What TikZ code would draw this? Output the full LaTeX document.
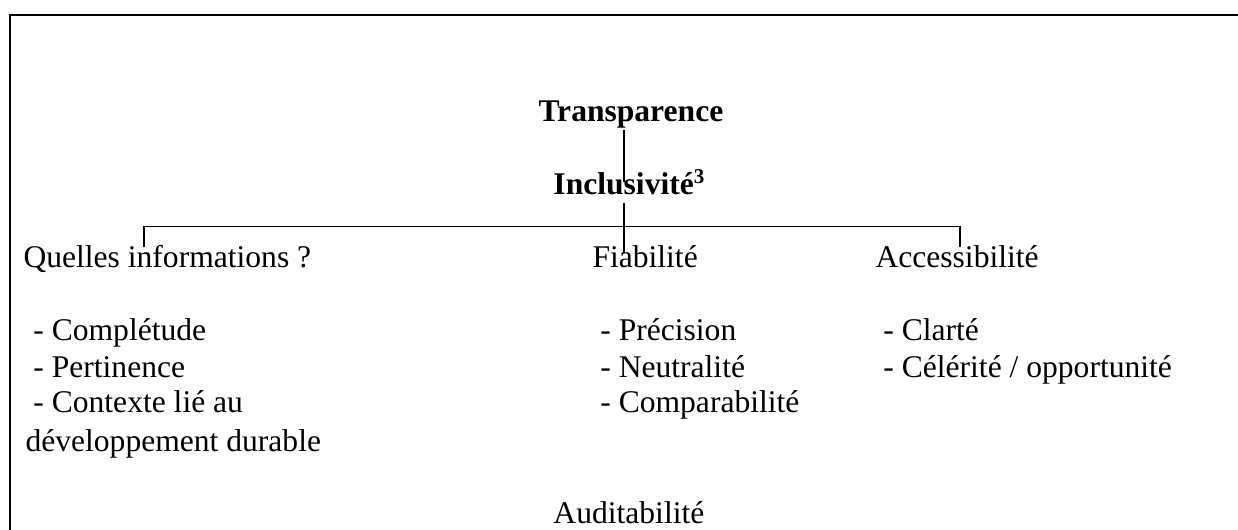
\documentclass[tikz,border=0pt]{standalone}
\usepackage{fontspec}
\setmainfont{Liberation Serif}
\tikzset{
  txt/.style={anchor=base west, inner sep=0pt, font=\fontsize{12}{14}\selectfont},
  head/.style={txt, font=\fontsize{12}{14}\selectfont\bfseries},
  frame/.style={line width=0.8pt}
}
\begin{document}
\begin{tikzpicture}
\useasboundingbox (0,0) rectangle (16.534,7.078);
\draw [frame] (0.134,-0.5) |- (17.0,6.878);

\node [head] (Trans) at (7.185,5.449) {Transparence};
\node [head] (Incl) at (7.385,4.474) {Inclusivité\textsuperscript{3}};

\node [txt] (Quel) at (0.307,3.512) {Quelles informations ?};
\node [txt] (Fiab) at (7.906,3.512) {Fiabilité};
\node [txt] (Acc) at (11.686,3.512) {Accessibilité};

\node [txt] (Comp) at (0.334,2.537) {\ - Complétude};
\node [txt] (Pert) at (0.334,2.043) {\ - Pertinence};
\node [txt] (Cont) at (0.334,1.563) {\ - Contexte lié au};
\node [txt] (Dura) at (0.334,1.042) {développement durable};

\node [txt] (Prec) at (7.906,2.537) {\ - Précision};
\node [txt] (Neut) at (7.906,2.043) {\ - Neutralité};
\node [txt] (Cmpb) at (7.906,1.563) {\ - Comparabilité};

\node [txt] (Clar) at (11.686,2.537) {\ - Clarté};
\node [txt] (Cele) at (11.686,2.043) {\ - Célérité / opportunité};

\node [txt] (Audi) at (7.385,0.093) {Auditabilité};

\coordinate (J) at (8.334,4.047);
\coordinate (L) at (1.923,4.047);
\coordinate (R) at (12.821,4.047);

\draw ([yshift=-3pt]Trans.base -| J) -- ([yshift=5pt]Incl.base -| J);
\draw ([yshift=-3pt]Incl.base -| J) -- ([yshift=5.3pt]Fiab.base -| J);
\draw ([yshift=7.6pt]Quel.base -| L) -- (L) -- (R) -- ([yshift=7.6pt]Acc.base -| R);
\end{tikzpicture}
\end{document}
